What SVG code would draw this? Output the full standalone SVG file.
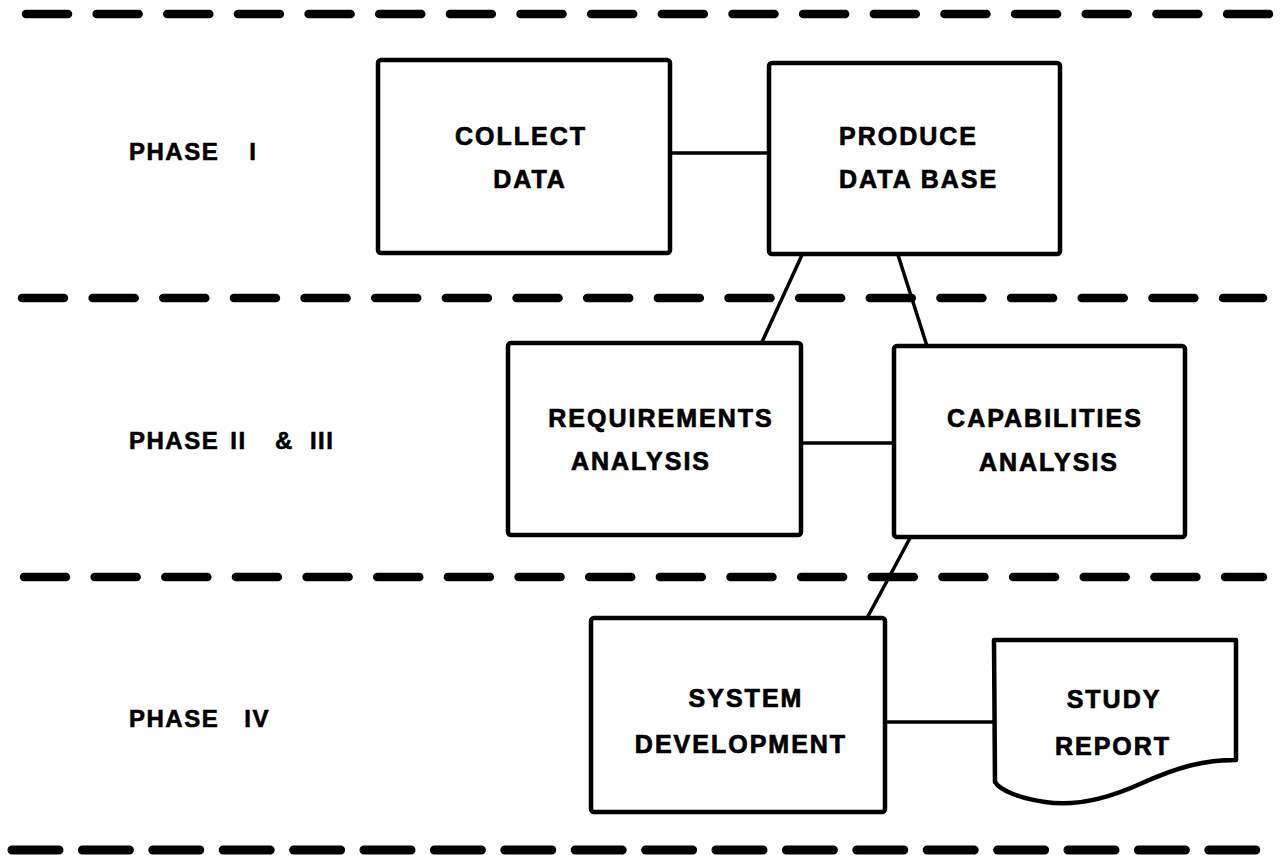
<svg xmlns="http://www.w3.org/2000/svg" width="1282" height="855" viewBox="0 0 1282 855">
<style>
.bg{fill:#ffffff}
.box{fill:none;stroke:#000;stroke-width:4.5;stroke-linejoin:round}
.con{fill:none;stroke:#000;stroke-width:3.5;stroke-linecap:round}
.dash{fill:none;stroke:#000;stroke-width:8.5;stroke-linecap:round;stroke-dasharray:42 28.65}
.t{font-family:"Liberation Sans",Arial,Helvetica,sans-serif;font-weight:bold;font-size:25px;letter-spacing:2px;fill:#000;stroke:#000;stroke-width:0.7}
.lbl{font-family:"Liberation Sans",Arial,Helvetica,sans-serif;font-weight:bold;font-size:24px;letter-spacing:1.5px;fill:#000;stroke:#000;stroke-width:0.6}
.c{text-anchor:middle}
</style>
<rect class="bg" x="0" y="0" width="1282" height="855"/>
<g id="phase-dividers">
<line class="dash" x1="26" y1="14" x2="1271" y2="14"/>
<line class="dash" x1="22" y1="298" x2="1263" y2="298"/>
<line class="dash" x1="24" y1="577" x2="1263" y2="577"/>
<line class="dash" x1="12" y1="850" x2="1256" y2="850" style="stroke-width:9;stroke-dasharray:47 23.4"/>
</g>
<g id="phase-labels">
<text class="lbl" x="129" y="160">PHASE <tspan dx="22">I</tspan></text>
<text class="lbl" x="129" y="449">PHASE <tspan dx="3">II</tspan> <tspan dx="20">&amp;</tspan> <tspan dx="8">III</tspan></text>
<text class="lbl" x="129" y="727">PHASE <tspan dx="17">IV</tspan></text>
</g>
<g id="connectors">
<line class="con" x1="670" y1="153" x2="769" y2="153"/>
<line class="con" x1="802" y1="255" x2="762" y2="342"/>
<line class="con" x1="898" y1="255" x2="927" y2="346"/>
<line class="con" x1="801" y1="443" x2="894" y2="443"/>
<path class="con" d="M910,538 Q885,585 867,618"/>
<line class="con" x1="885" y1="722" x2="994" y2="722"/>
</g>
<g id="collect-data">
<rect class="box" x="378" y="60" width="292" height="193" rx="3"/>
<text class="t c" x="521" y="145">COLLECT</text>
<text class="t c" x="530" y="188">DATA</text>
</g>
<g id="produce-data-base">
<rect class="box" x="769" y="63" width="291" height="191" rx="3"/>
<text class="t" x="839" y="145">PRODUCE</text>
<text class="t" x="839" y="188">DATA BASE</text>
</g>
<g id="requirements-analysis">
<rect class="box" x="508" y="343" width="293" height="192" rx="3"/>
<text class="t c" x="661" y="427">REQUIREMENTS</text>
<text class="t c" x="641" y="470">ANALYSIS</text>
</g>
<g id="capabilities-analysis">
<rect class="box" x="894" y="346" width="291" height="191" rx="3"/>
<text class="t c" x="1045" y="427">CAPABILITIES</text>
<text class="t c" x="1049" y="471">ANALYSIS</text>
</g>
<g id="system-development">
<rect class="box" x="591" y="618" width="294" height="194" rx="3"/>
<text class="t c" x="746" y="707">SYSTEM</text>
<text class="t c" x="741" y="753">DEVELOPMENT</text>
</g>
<g id="study-report">
<path class="box" d="M994,640 L1236,640 L1236,760 C1205,760 1180,766 1140,784 C1100,802 1070,806 1045,802 C1018,798 1000,790 995,782 Z"/>
<text class="t c" x="1114" y="708">STUDY</text>
<text class="t c" x="1113" y="755">REPORT</text>
</g>
</svg>
